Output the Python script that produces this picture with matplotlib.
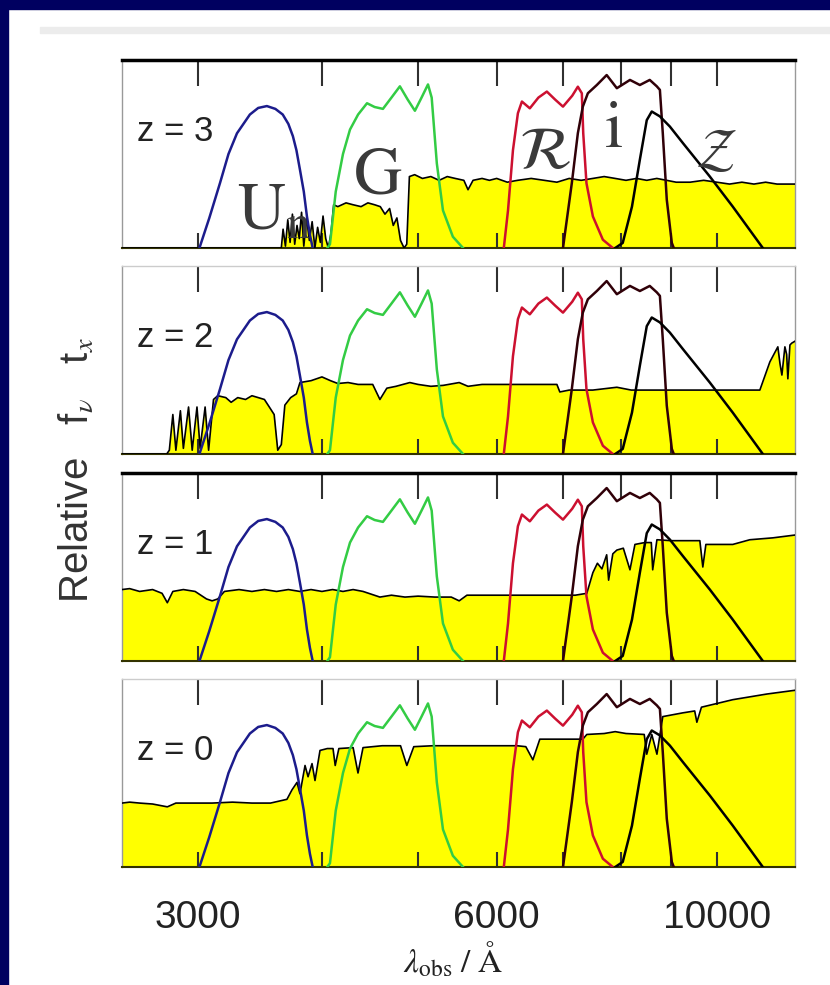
import matplotlib
matplotlib.use('Agg')
import matplotlib.pyplot as plt
from matplotlib import font_manager
from matplotlib.patches import Rectangle
from matplotlib.ticker import FixedLocator, NullLocator, FuncFormatter

plt.rcParams['mathtext.fontset'] = 'stix'

_names = {f.name for f in font_manager.fontManager.ttflist}
def pick(*cands):
    for c in cands:
        if c in _names:
            return c
    return 'DejaVu Sans'
SANS = pick('Liberation Sans Narrow', 'DejaVu Sans Condensed', 'Liberation Sans')

# ---------------- data ----------------
panel_labels = ['z = 3', 'z = 2', 'z = 1', 'z = 0']
tick_values = [3000, 4000, 5000, 6000, 7000, 8000, 9000, 10000]
labelled_ticks = [3000, 6000, 10000]

# filter transmission curves (wavelength in Angstrom, relative transmission)
filt_un = [(3010, 0.0), (3080, 0.16), (3157, 0.345), (3220, 0.50), (3284, 0.61),
           (3384, 0.71), (3450, 0.745), (3520, 0.755), (3590, 0.74), (3652, 0.71),
           (3700, 0.66), (3739, 0.595), (3770, 0.52), (3801, 0.416), (3835, 0.30),
           (3863, 0.168), (3890, 0.07), (3915, 0.0)]
filt_g = [(4050, 0.0), (4075, 0.02), (4130, 0.30), (4200, 0.50), (4269, 0.63),
          (4350, 0.71), (4441, 0.77), (4520, 0.75), (4608, 0.74), (4700, 0.80),
          (4793, 0.86), (4880, 0.79), (4963, 0.73), (5040, 0.80), (5116, 0.87),
          (5160, 0.80), (5222, 0.45), (5297, 0.20), (5420, 0.06), (5549, 0.0)]
filt_r = [(6100, 0.0), (6160, 0.20), (6231, 0.52), (6303, 0.717), (6362, 0.779),
          (6480, 0.743), (6610, 0.80), (6741, 0.832), (6870, 0.79), (6998, 0.752),
          (7150, 0.81), (7244, 0.858), (7311, 0.823), (7335, 0.61), (7390, 0.345),
          (7501, 0.168), (7677, 0.044), (7856, 0.0)]
filt_i = [(6998, 0.0), (7143, 0.345), (7244, 0.611), (7328, 0.752), (7414, 0.823),
          (7570, 0.867), (7745, 0.92), (7930, 0.85), (8175, 0.894), (8365, 0.867),
          (8559, 0.894), (8700, 0.86), (8763, 0.841), (8822, 0.611), (8904, 0.257),
          (9009, 0.027), (9050, 0.0)]
filt_z = [(7900, 0.0), (8039, 0.027), (8213, 0.22), (8365, 0.47), (8500, 0.68),
          (8599, 0.726), (8763, 0.70), (8968, 0.646), (9244, 0.558), (9840, 0.38),
          (10378, 0.22), (11127, 0.0)]

# galaxy spectra at each redshift (wavelength, relative f_nu)
spec_z3 = [(2515, 0.0), (3640, 0.0), (3655, 0.10), (3675, 0.01), (3695, 0.15),
           (3715, 0.03), (3735, 0.18), (3755, 0.02), (3775, 0.12), (3795, 0.05),
           (3815, 0.19), (3835, 0.01), (3860, 0.16), (3885, 0.04), (3910, 0.14),
           (3935, 0.0), (3960, 0.11), (3985, 0.03), (4010, 0.17), (4035, 0.05),
           (4060, 0.0), (4085, 0.08), (4110, 0.23), (4150, 0.22), (4230, 0.24),
           (4300, 0.23), (4380, 0.22), (4450, 0.24), (4520, 0.23), (4580, 0.22),
           (4630, 0.18), (4680, 0.21), (4720, 0.12), (4760, 0.16), (4800, 0.04),
           (4840, 0.0), (4870, 0.02), (4900, 0.38), (4960, 0.39), (5050, 0.37),
           (5150, 0.38), (5250, 0.36), (5350, 0.38), (5450, 0.37), (5560, 0.36),
           (5614, 0.31), (5680, 0.36), (5800, 0.37), (5900, 0.36), (6000, 0.37),
           (6150, 0.35), (6300, 0.36), (6500, 0.37), (6700, 0.36), (6900, 0.35),
           (7100, 0.37), (7300, 0.36), (7500, 0.37), (7700, 0.38), (7900, 0.37),
           (8100, 0.36), (8300, 0.37), (8500, 0.36), (8700, 0.37), (8900, 0.36),
           (9100, 0.35), (9400, 0.35), (9700, 0.36), (10000, 0.35), (10300, 0.34),
           (10600, 0.35), (10900, 0.34), (11200, 0.35), (11500, 0.34), (11990, 0.34)]
spec_z2 = [(2515, 0.0), (2790, 0.0), (2807, 0.02), (2830, 0.21), (2850, 0.02),
           (2880, 0.23), (2900, 0.03), (2935, 0.25), (2960, 0.02), (2993, 0.25),
           (3015, 0.03), (3050, 0.25), (3075, 0.02), (3110, 0.29), (3141, 0.31),
           (3200, 0.30), (3240, 0.275), (3290, 0.30), (3350, 0.29), (3400, 0.31),
           (3450, 0.30), (3500, 0.29), (3540, 0.25), (3580, 0.21), (3610, 0.02),
           (3640, 0.05), (3670, 0.26), (3720, 0.30), (3770, 0.32), (3801, 0.38),
           (3900, 0.39), (4000, 0.41), (4080, 0.39), (4150, 0.375), (4250, 0.38),
           (4350, 0.37), (4500, 0.37), (4576, 0.29), (4650, 0.35), (4750, 0.36),
           (4905, 0.38), (5000, 0.37), (5150, 0.36), (5300, 0.365), (5500, 0.38),
           (5614, 0.36), (5800, 0.37), (6100, 0.37), (6500, 0.37), (6900, 0.37),
           (6947, 0.33), (7100, 0.34), (7500, 0.34), (7930, 0.355), (8200, 0.34),
           (8600, 0.34), (9000, 0.34), (9500, 0.34), (10000, 0.34), (10500, 0.34),
           (11051, 0.34), (11311, 0.49), (11522, 0.57), (11580, 0.48), (11631, 0.42),
           (11712, 0.57), (11760, 0.53), (11793, 0.40), (11850, 0.58), (11902, 0.59),
           (11990, 0.60)]
spec_z1 = [(2515, 0.38), (2560, 0.385), (2620, 0.37), (2700, 0.38), (2760, 0.36),
           (2794, 0.31), (2830, 0.37), (2900, 0.38), (2980, 0.37), (3060, 0.33),
           (3100, 0.32), (3141, 0.33), (3190, 0.37), (3300, 0.38), (3400, 0.37),
           (3500, 0.38), (3600, 0.37), (3700, 0.38), (3800, 0.37), (3900, 0.38),
           (4000, 0.37), (4100, 0.38), (4200, 0.37), (4300, 0.38), (4400, 0.37),
           (4576, 0.34), (4700, 0.35), (4850, 0.34), (5000, 0.345), (5200, 0.34),
           (5400, 0.34), (5500, 0.32), (5600, 0.35), (5800, 0.35), (6000, 0.35),
           (6300, 0.35), (6600, 0.35), (6900, 0.35), (7200, 0.35), (7396, 0.36),
           (7501, 0.47), (7580, 0.52), (7660, 0.49), (7745, 0.565), (7780, 0.43),
           (7856, 0.57), (7930, 0.59), (8050, 0.60), (8175, 0.485), (8270, 0.62),
           (8460, 0.63), (8590, 0.63), (8618, 0.485), (8703, 0.645), (9000, 0.64),
           (9244, 0.64), (9614, 0.64), (9681, 0.50), (9750, 0.62), (10378, 0.62),
           (10797, 0.645), (11388, 0.655), (11990, 0.67)]
spec_z0 = [(2515, 0.34), (2560, 0.345), (2620, 0.34), (2700, 0.335), (2794, 0.32),
           (2850, 0.34), (2950, 0.34), (3100, 0.34), (3250, 0.345), (3400, 0.34),
           (3550, 0.34), (3688, 0.36), (3731, 0.41), (3775, 0.45), (3801, 0.39),
           (3846, 0.54), (3873, 0.48), (3909, 0.55), (3936, 0.46), (3982, 0.62),
           (4050, 0.63), (4104, 0.63), (4125, 0.54), (4160, 0.63), (4300, 0.635),
           (4349, 0.50), (4400, 0.635), (4600, 0.645), (4800, 0.645), (4871, 0.54),
           (4950, 0.64), (5175, 0.645), (5600, 0.645), (6045, 0.645), (6289, 0.645),
           (6420, 0.64), (6526, 0.57), (6632, 0.68), (7000, 0.68), (7328, 0.68),
           (7396, 0.705), (7700, 0.71), (7900, 0.72), (8100, 0.71), (8450, 0.705),
           (8500, 0.60), (8600, 0.705), (8703, 0.60), (8822, 0.80), (9244, 0.82),
           (9500, 0.83), (9548, 0.77), (9650, 0.85), (10378, 0.89), (11231, 0.92),
           (11990, 0.94)]

spectra = [spec_z3, spec_z2, spec_z1, spec_z0]
filters = [(filt_un, '#1c1c8c'), (filt_g, '#33cc44'), (filt_r, '#cc1030'),
           (filt_i, '#300008'), (filt_z, '#000000')]

# ---------------- figure ----------------
W, H = 830, 985
fig = plt.figure(figsize=(W / 100, H / 100), dpi=100)
fig.patch.set_facecolor('white')

# slide frame
fig.patches.append(Rectangle((0, 0), 8 / W, 1, transform=fig.transFigure,
                             color='#000060', zorder=0))
fig.patches.append(Rectangle((0, 1 - 9 / H), 1, 9 / H, transform=fig.transFigure,
                             color='#000060', zorder=0))
fig.patches.append(Rectangle((40 / W, 1 - 33 / H), 1, 6 / H, transform=fig.transFigure,
                             color='#ececec', zorder=0))

left = 122 / W
width = (795 - 122) / W
panel_bottoms_px = [248, 454, 661, 867]
height = 188 / H

axes = []
for k, (bpx, spec, lab) in enumerate(zip(panel_bottoms_px, spectra, panel_labels)):
    ax = fig.add_axes([left, 1 - bpx / H, width, height])
    axes.append(ax)
    ax.set_xscale('log')
    ax.set_xlim(2515, 11990)
    ax.set_ylim(0, 1)

    wl = [p[0] for p in spec]
    fl = [p[1] for p in spec]
    ax.fill_between(wl, 0, fl, color='#ffff00', lw=0, zorder=1)
    ax.plot(wl, fl, color='black', lw=1.2, zorder=3)

    for curve, col in filters:
        ax.plot([p[0] for p in curve], [p[1] for p in curve], color=col, lw=1.8, zorder=4)

    ax.text(0.022, 0.62, lab, transform=ax.transAxes, ha='left', va='center',
            fontsize=25, family=SANS, color='#222222')

    # ticks: long ones on top, short ones at the bottom
    ax.xaxis.remove_overlapping_locs = False
    ax.xaxis.set_major_locator(FixedLocator(tick_values))
    ax.xaxis.set_minor_locator(FixedLocator(tick_values))
    ax.xaxis.set_major_formatter(FuncFormatter(
        lambda v, p: ('%d' % v) if int(round(v)) in labelled_ticks else ''))
    ax.xaxis.set_minor_formatter(FuncFormatter(lambda v, p: ''))
    ax.tick_params(axis='x', which='major', direction='in', top=False, bottom=True,
                   length=11, width=1.5, color='#303030',
                   labelbottom=(k == 3), labelsize=28, pad=24, labelcolor='#222222')
    ax.tick_params(axis='x', which='minor', direction='in', top=True, bottom=False,
                   length=19, width=1.5, color='#303030', labelbottom=False, labeltop=False)
    for t in ax.get_xticklabels():
        t.set_family(SANS)
    ax.yaxis.set_major_locator(NullLocator())
    ax.yaxis.set_minor_locator(NullLocator())

    for side in ('left', 'right'):
        ax.spines[side].set_color('#999999')
        ax.spines[side].set_linewidth(1.0)
    ax.spines['bottom'].set_color('#333300')
    ax.spines['bottom'].set_linewidth(1.5)
    if k in (0, 2):
        ax.spines['top'].set_color('black')
        ax.spines['top'].set_linewidth(2.5)
    else:
        ax.spines['top'].set_color('#cccccc')
        ax.spines['top'].set_linewidth(1.0)
    ax.set_facecolor('white')

# filter names in the top panel
ax0 = axes[0]
lab_col = '#3a3a3a'
ax0.text(3285, 0.20, r'$\mathrm{U}_\mathrm{n}$', ha='left', va='center', fontsize=48, color=lab_col, zorder=5)
ax0.text(4553, 0.39, r'$\mathrm{G}$', ha='center', va='center', fontsize=48, color=lab_col, zorder=5)
ax0.text(6711, 0.51, r'$\mathcal{R}$', ha='center', va='center', fontsize=44, color=lab_col, zorder=5)
ax0.text(7876, 0.64, r'$\mathrm{i}$', ha='center', va='center', fontsize=48, color=lab_col, zorder=5)
ax0.text(9985, 0.51, r'$\mathcal{Z}$', ha='center', va='center', fontsize=40, color=lab_col, zorder=5)

# axis titles
fig.text(76 / W, 1 - 470 / H, r'Relative   f$_\nu$   t$_x$', rotation=90,
         ha='center', va='center', fontsize=29, family=SANS, color='#333333')
fig.text(453 / W, 1 - 960 / H, r'$\lambda_{\mathrm{obs}}\ /\ \mathrm{\AA}$',
         ha='center', va='center', fontsize=24, color='#222222')

fig.savefig('out.png', dpi=100, facecolor=fig.get_facecolor())
